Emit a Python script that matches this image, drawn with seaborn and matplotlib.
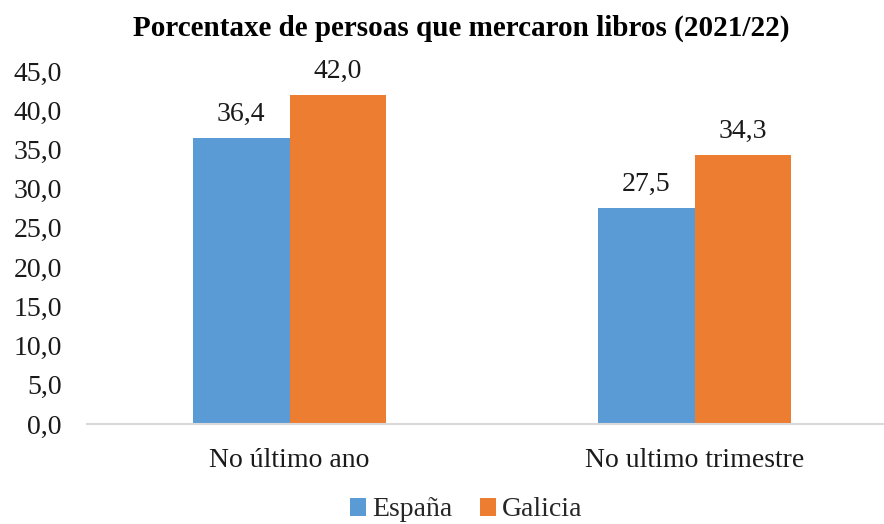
import matplotlib
matplotlib.use("Agg")
import matplotlib.pyplot as plt
from matplotlib.ticker import FuncFormatter, MultipleLocator
import seaborn as sns
import pandas as pd

categories = ["No último ano", "No ultimo trimestre"]
series_names = ["España", "Galicia"]
espana = [36.4, 27.5]
galicia = [42.0, 34.3]
colors = ["#5B9BD5", "#ED7D31"]
title = "Porcentaxe de persoas que mercaron libros (2021/22)"

df = pd.DataFrame({
    "cat": categories * 2,
    "serie": [series_names[0]] * 2 + [series_names[1]] * 2,
    "val": espana + galicia,
})

sns.set_theme(style="white")
plt.rcParams["font.family"] = ["Liberation Serif", "DejaVu Serif"]

fig = plt.figure(figsize=(8.84, 5.24), dpi=100)
ax = fig.add_axes([87 / 884, 1 - 424 / 524, 1 - 87 / 884, (424 - 71) / 524])

sns.barplot(data=df, x="cat", y="val", hue="serie", palette=colors,
            width=0.477, gap=0, ax=ax, saturation=1, edgecolor="none",
            linewidth=0)

fmt = lambda v: f"{v:.1f}".replace(".", ",")
for cont in ax.containers:
    ax.bar_label(cont, labels=[fmt(v) for v in cont.datavalues],
                 padding=8, fontsize=20, color="#1a1a1a")

ax.set_ylim(0, 45)
ax.set_xlim(-0.5, -0.5 + 797 / 405)
ax.yaxis.set_major_locator(MultipleLocator(5))
ax.yaxis.set_major_formatter(FuncFormatter(lambda v, p: fmt(v)))
ax.tick_params(axis="y", labelsize=20, length=0, pad=18, labelcolor="#1a1a1a")
ax.tick_params(axis="x", labelsize=20, length=0, pad=17, labelcolor="#1a1a1a")
ax.set_xlabel("")
ax.set_ylabel("")
for s in ["top", "right", "left"]:
    ax.spines[s].set_visible(False)
ax.spines["bottom"].set_color("#D9D9D9")
ax.spines["bottom"].set_linewidth(1.5)
ax.grid(False)

fig.text(461 / 884, 1 - 28 / 524, title, ha="center", va="center",
         fontsize=21, fontweight="bold", color="#000000")

handles, labels = ax.get_legend_handles_labels()
ax.legend(handles, labels, loc="center", bbox_to_anchor=(466 / 884, 1 - 510 / 524),
          bbox_transform=fig.transFigure, ncol=2, frameon=False, fontsize=20,
          handlelength=0.6, handleheight=0.6, handletextpad=0.2, columnspacing=1.0,
          borderpad=0.2)

fig.savefig("out.png", dpi=100)
